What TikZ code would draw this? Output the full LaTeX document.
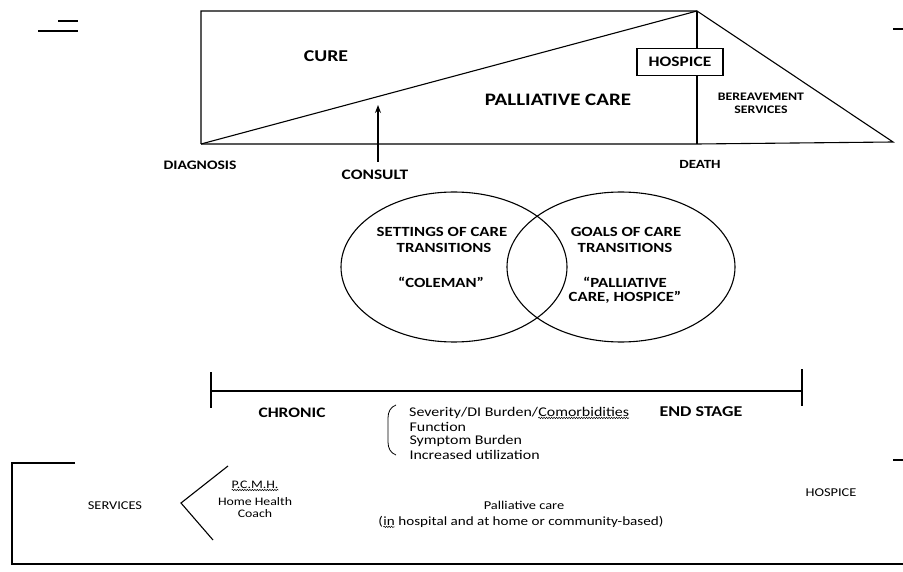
\documentclass[tikz,border=0pt]{standalone}
\usepackage{fontspec}
\setmainfont{Carlito}[FakeStretch=1.2]
\usetikzlibrary{arrows.meta,shapes.geometric,decorations.pathmorphing}
\newcommand{\fsz}[1]{\fontsize{#1}{#1}\selectfont}
\newcommand{\wavyu}[1]{\tikz[baseline=(w.base)]{\node[inner sep=0pt,outer sep=0pt](w){#1};\draw[line width=0.5pt,decorate,decoration={snake,amplitude=0.7pt,segment length=2.5pt}] ([yshift=-1.4pt]w.south west) -- ([yshift=-1.4pt]w.south east);}}
\tikzset{
  lab/.style={inner sep=0pt, align=center, text=black},
  bl/.style={lab, font=\bfseries},
  thickmark/.style={line width=1.8pt},
}
\begin{document}
\begin{tikzpicture}[x=1pt,y=-1pt,line width=1.1pt]
\useasboundingbox (0,0) rectangle (903,572);
\fill[white] (0,0) rectangle (903,572);

% corner marks
\coordinate (m1a) at (58,21); \coordinate (m1b) at (78,21);
\coordinate (m2a) at (38,31); \coordinate (m2b) at (78,31);
\draw[thickmark] (m1a) -- (m1b);
\draw[thickmark] (m2a) -- (m2b);
\coordinate (m3a) at (893,29); \coordinate (m3b) at (903,29);
\draw[thickmark] (m3a) -- (m3b);
\coordinate (m4a) at (893,460); \coordinate (m4b) at (903,460);
\draw[thickmark] (m4a) -- (m4b);

% top diagram
\coordinate (tl) at (201,11);
\coordinate (dg) at (201,144);
\coordinate (dt) at (697,11);
\coordinate (db) at (697,144);
\coordinate (te) at (893,142);
\draw (dg) -- (tl) -- (dt) -- (te) -- (db) -- (dg);
\draw (dg) -- (dt);
\draw (dt) -- (db);
\node[bl, draw, fill=white, minimum width=86pt, minimum height=27pt, font=\bfseries\fsz{14.5}] (hosp) at (680,62) {HOSPICE};

\node[bl, font=\bfseries\fsz{16.5}] (cure) at (326,56) {CURE};
\node[bl, font=\bfseries\fsz{17.5}] (pc) at (558,100) {PALLIATIVE CARE};
\node[bl, font=\bfseries\fsz{11.5}] (bv1) at (761,97) {BEREAVEMENT};
\node[bl, font=\bfseries\fsz{11.5}] (bv2) at (761,110) {SERVICES};
\node[bl, font=\bfseries\fsz{13}] (diag) at (200,165) {DIAGNOSIS};
\node[bl, font=\bfseries\fsz{14.5}] (cons) at (375,175) {CONSULT};
\node[bl, font=\bfseries\fsz{12.5}] (death) at (700,164) {DEATH};

\coordinate (cs) at (378,162);
\coordinate (ct) at (378,105);
\draw[-{Stealth[length=8pt,width=6pt]}] (cs) -- (ct);

% venn
\node[draw, ellipse, inner sep=0pt, minimum width=226pt, minimum height=150pt] (lc) at (454,267) {};
\node[draw, ellipse, inner sep=0pt, minimum width=228pt, minimum height=150pt] (rc) at (621,267) {};
\node[bl, font=\bfseries\fsz{14}] (s1) at (442,232) {SETTINGS OF CARE};
\node[bl, font=\bfseries\fsz{14}] (s2) at (444,248) {TRANSITIONS};
\node[bl, font=\bfseries\fsz{14}] (s3) at (441,282) {“COLEMAN”};
\node[bl, font=\bfseries\fsz{14}] (g1) at (626,232) {GOALS OF CARE};
\node[bl, font=\bfseries\fsz{14}] (g2) at (625,248) {TRANSITIONS};
\node[bl, font=\bfseries\fsz{14}] (g3) at (625,282) {“PALLIATIVE};
\node[bl, font=\bfseries\fsz{14}] (g4) at (625,297) {CARE, HOSPICE”};

% timeline
\coordinate (t1) at (211,391); \coordinate (t2) at (802,391);
\draw (t1) -- (t2);
\coordinate (k1a) at (211,372); \coordinate (k1b) at (211,408);
\coordinate (k2a) at (802,369); \coordinate (k2b) at (802,406);
\draw (k1a) -- (k1b);
\draw (k2a) -- (k2b);
\node[bl, font=\bfseries\fsz{14.5}] (chr) at (292,413) {CHRONIC};
\node[bl, font=\bfseries\fsz{15}] (end) at (701,412) {END STAGE};

\coordinate (br1) at (396,405); \coordinate (br2) at (388,418);
\coordinate (br3) at (388,442); \coordinate (br4) at (396,455);
\draw[line width=0.8pt] (br1) to[out=200,in=90] (br2) -- (br3) to[out=-90,in=160] (br4);
\node[lab, anchor=west, font=\fsz{13.3}] (f1) at (409,413) {Severity/DI Burden/\wavyu{Comorbidities}};
\node[lab, anchor=west, font=\fsz{13.3}] (f2) at (409,427) {Function};
\node[lab, anchor=west, font=\fsz{13.3}] (f3) at (409,441) {Symptom Burden};
\node[lab, anchor=west, font=\fsz{13.3}] (f4) at (409,455) {Increased utilization};

% bottom box
\coordinate (b1) at (75,463); \coordinate (b2) at (12,463);
\coordinate (b3) at (12,564); \coordinate (b4) at (903,564);
\draw (b1) -- (b2) -- (b3) -- (b4);
\coordinate (v1) at (228,466); \coordinate (v2) at (181,503); \coordinate (v3) at (213,540);
\draw (v1) -- (v2) -- (v3);
\node[lab, font=\fsz{12}] (serv) at (115,506) {SERVICES};
\node[lab, font=\fsz{11.5}] (pcmh) at (255,486) {\wavyu{P.C.M.H.}};
\node[lab, font=\fsz{11.5}] (hhc) at (255,502) {Home Health};
\node[lab, font=\fsz{11.5}] (coach) at (255,514) {Coach};
\node[lab, font=\fsz{12}] (pal) at (524,505) {Palliative care};
\node[lab, font=\fsz{12.6}] (pal2) at (521,522) {(\wavyu{in} hospital and at home or community-based)};
\node[lab, font=\fsz{12}] (hosp2) at (831,493) {HOSPICE};
\end{tikzpicture}
\end{document}
